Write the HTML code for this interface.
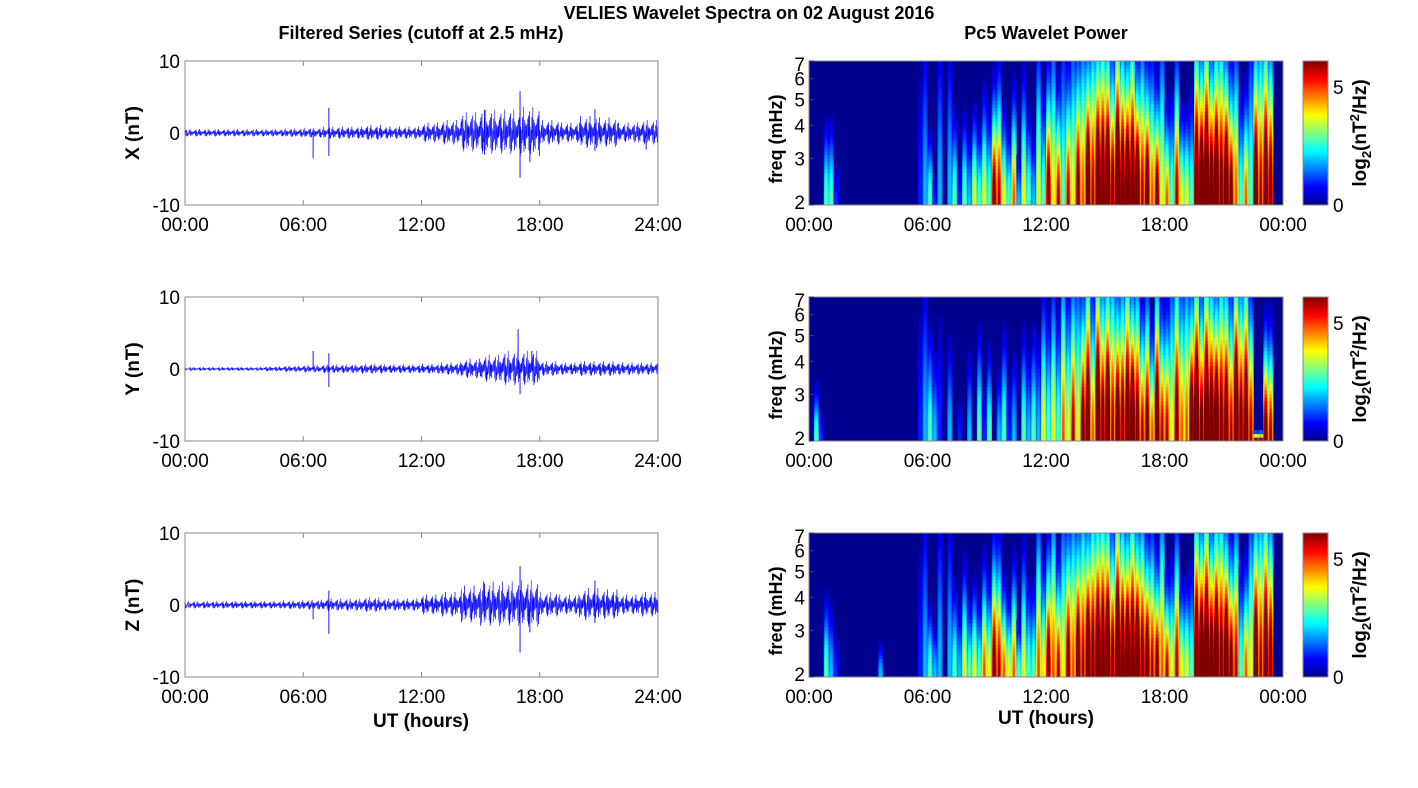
<!DOCTYPE html>
<html><head><meta charset="utf-8"><style>
body{margin:0;background:#fff}
svg{display:block;font-family:"Liberation Sans",sans-serif}
</style></head><body>
<svg id="fig" width="1418" height="788" xmlns="http://www.w3.org/2000/svg">
<defs><linearGradient id="jetg" x1="0" y1="1" x2="0" y2="0">
<stop offset="0" stop-color="#00008f"/><stop offset="0.125" stop-color="#0000ff"/><stop offset="0.375" stop-color="#00ffff"/><stop offset="0.625" stop-color="#ffff00"/><stop offset="0.875" stop-color="#ff0000"/><stop offset="1" stop-color="#800000"/></linearGradient></defs>
<text x="749" y="19" text-anchor="middle" font-size="18" font-weight="bold">VELIES Wavelet Spectra on 02 August 2016</text>
<text x="421" y="39" text-anchor="middle" font-size="18" font-weight="bold">Filtered Series (cutoff at 2.5 mHz)</text>
<text x="1046" y="39" text-anchor="middle" font-size="18" font-weight="bold">Pc5 Wavelet Power</text>
<text x="421" y="727" text-anchor="middle" font-size="19" font-weight="bold">UT (hours)</text>
<text x="1046" y="724" text-anchor="middle" font-size="19" font-weight="bold">UT (hours)</text>
<g id="root"></g>
</svg>
<script>
// ---- time series data (amplitude envelope per hour, nT) ----
const hours = [0,1,2,3,4,5,6,7,8,9,10,11,12,13,14,15,16,17,18,19,20,21,22,23];
const ampX = [0.3,0.3,0.3,0.3,0.3,0.35,0.4,0.5,0.5,0.6,0.5,0.5,0.8,1.0,1.6,1.8,1.8,2.0,1.0,0.8,1.3,1.2,0.8,1.0];
const ampY = [0.15,0.15,0.15,0.15,0.2,0.25,0.3,0.35,0.35,0.4,0.35,0.35,0.4,0.5,0.8,1.1,1.4,1.4,0.6,0.5,0.6,0.6,0.5,0.5];
const ampZ = [0.3,0.3,0.3,0.3,0.3,0.35,0.4,0.5,0.5,0.6,0.5,0.5,0.8,1.0,1.5,1.8,1.8,1.9,1.0,0.8,1.3,1.2,0.8,1.0];
const wiggle = [1,-0.4,0.7,-1.3,0.3,-0.8,1.5,-0.2,0.6,-1.1,0.9,-0.5,0.2,-1.6,1.2,-0.3,0.5,-0.9,1.8,-0.7,0.4,-1.2,0.8,-0.1,0.3,-0.6,1.1,-1.4,0.6];
const spikesX = [[6.5,-3.5],[7.3,3.5],[7.3,-3.2],[15.2,3.2],[15.2,-3.0],[17.0,5.8],[17.0,-6.2],[17.5,-4.0],[20.8,3.3],[20.8,-2.5],[23.4,-2.3]];
const spikesY = [[6.5,2.5],[7.3,2.2],[7.3,-2.5],[16.9,5.5],[17.0,-3.5],[17.6,2.5]];
const spikesZ = [[6.5,-2.0],[7.3,2.0],[7.3,-4.0],[15.2,3.0],[17.0,5.4],[17.0,-6.6],[17.5,-3.8],[20.8,3.4],[20.8,-2.5]];
const yTicks = [10,0,-10];
const xTickLabelsL = ["00:00","06:00","12:00","18:00","24:00"];
const xTickLabelsR = ["00:00","06:00","12:00","18:00","00:00"];
const freqTicks = [2,3,4,5,6,7];
const cbarTicks = [0,5];
// ---- wavelet power per 15-min bin (log2 nT^2/Hz) and vertical extent ----
const powX = [0,0,0,3, 3,1,0,0, 0,0,0,0, 0,0,0,0, 0,0,0,0, 0,0,1,2, 3,1,2,0, 2,3,1,3, 2,4,3,4, 3,7,6,4, 3,5,2,4, 3,2,4,3, 7,4,6,3, 6,4,7,5, 9,6,9,8, 9,7,9,8, 9,8,9,6, 8,5,7,4, 5,3,6,4, 4,3,8,9, 9,8,9,7, 9,7,5,3, 5,3,8,6, 8,7,0,0];
const extX = [0,0,0,.45, .45,.3,0,0, 0,0,0,0, 0,0,0,0, 0,0,0,0, 0,0,.9,1, .4,.2,1,0, 1,.5,.3,.5, .4,.5,.4,.6, .5,.6,.7,.5, .4,.6,.3,.7, .5,.4,.9,.6, .7,1,.6,1, .7,1,.8,1, .8,1,.9,1, .9,.8,1,.9, .8,1,.7,.9, .7,.8,.6,1, .5,.6,.8,.5, .5,.6,1,.8, 1,.8,.9,1, .8,.7,.9,.6, .6,1,.9,1, 1,.9,0,0];
const powY = [0,3,1,0, 0,0,0,0, 0,0,0,0, 0,0,0,0, 0,0,0,0, 0,0,1,2, 3,2,1,0, 2,0,1,0, 2,0,3,1, 3,0,2,3, 1,2,0,3, 2,3,2,4, 3,4,3,5, 4,6,4,7, 8,5,9,7, 9,6,8,7, 8,9,7,6, 7,5,8,6, 6,4,7,5, 5,8,9,7, 9,8,9,7, 8,6,9,7, 8,6,7,8, 7,6,0,0];
const extY = [0,.3,.2,0, 0,0,0,0, 0,0,0,0, 0,0,0,0, 0,0,0,0, 0,0,.9,1, .6,.5,.9,0, .6,0,.3,0, .5,0,.6,.4, .5,0,.4,.6, .4,.5,0,.6, .5,.6,.6,.8, .7,.9,.7,1, .8,.9,1,.8, 1,.8,1,.9, .9,1,.8,.9, 1,.8,.9,.7, .8,.6,.9,.7, .7,1,1,.9, 1,.8,1,.8, 1,.9,.8,1, .9,.8,1,.9, 1,.8,0,0];
const powZ = [0,0,0,3, 2,1,0,0, 0,0,0,0, 0,0,2,0, 0,0,0,0, 0,0,1,2, 3,2,2,0, 2,3,2,4, 3,4,3,5, 4,7,6,5, 4,5,3,4, 3,3,5,4, 7,5,6,4, 7,5,8,6, 9,7,9,8, 9,7,9,8, 9,8,9,7, 8,6,7,5, 6,4,6,4, 4,3,8,9, 9,8,9,7, 9,7,6,3, 5,4,8,6, 8,7,0,0];
const extZ = [0,0,0,.45, .4,.3,0,0, 0,0,0,0, 0,0,.2,0, 0,0,0,0, 0,0,.9,1, .4,.3,1,0, 1,.5,.4,.6, .4,.5,.4,.6, .5,.7,.7,.5, .4,.6,.3,.7, .5,.5,.9,.6, .7,1,.6,1, .8,1,.8,1, .8,1,.9,1, .9,.8,1,.9, .8,1,.8,.9, .7,.8,.6,1, .5,.6,.8,.5, .5,.6,1,.8, 1,.8,.9,1, .8,.7,.9,.6, .6,1,.9,1, 1,.9,0,0];
const cmax = 6.1;

const NS="http://www.w3.org/2000/svg";
const root=document.getElementById('root');
function mk(tag,attrs,parent,txt){const e=document.createElementNS(NS,tag);for(const k in attrs)e.setAttribute(k,attrs[k]);if(txt!==undefined)e.textContent=txt;(parent||root).appendChild(e);return e;}
function jet(v){v=Math.max(0,Math.min(1,v));const r=Math.max(0,Math.min(1,1.5-Math.abs(4*v-3))),g=Math.max(0,Math.min(1,1.5-Math.abs(4*v-2))),b=Math.max(0,Math.min(1,1.5-Math.abs(4*v-1)));return `rgb(${Math.round(r*255)},${Math.round(g*255)},${Math.round(b*255)})`;}

const panelTops=[61,297,533], ph=144;
const subW=[0.75,0.95,1,0.95,0.75];
const comps=[["X",ampX,spikesX,powX,extX],["Y",ampY,spikesY,powY,extY],["Z",ampZ,spikesZ,powZ,extZ]];
comps.forEach((c,i)=>{
  const top=panelTops[i], L=185, R=658, W=R-L;
  const xs=t=>L+t/24*W, ys=v=>top+ph/2-v/20*ph;
  const g=mk('g',{});
  
  
  const bg=mk('rect',{x:L,y:top,width:W,height:ph,fill:'#fff',stroke:'#888','stroke-width':1},g);
  
  let pts=[];const per=60;
  for(let k=0;k<24*per;k++){const t=k/per;const a=c[1][Math.floor(t)];pts.push(xs(t).toFixed(2)+','+ys(a*wiggle[(k*7+i*3)%wiggle.length]).toFixed(2));}
  const ln=mk('polyline',{points:pts.join(' '),fill:'none',stroke:'#0000ff','stroke-width':0.5},g);
  
  c[2].forEach(s=>{const sp=mk('line',{x1:xs(s[0]),x2:xs(s[0]),y1:ys(0),y2:ys(s[1]),stroke:'#0000ff','stroke-width':0.9},g);
    });
  yTicks.forEach(v=>{mk('line',{x1:L,x2:L+5,y1:ys(v),y2:ys(v),stroke:'#888'},g);
    const tl=mk('text',{x:L-5,y:ys(v)+7,'text-anchor':'end','font-size':19},g,String(v));
    });
  xTickLabelsL.forEach((s,j)=>{const x=L+j*W/4;mk('line',{x1:x,x2:x,y1:top+ph,y2:top+ph-5,stroke:'#888'},g);mk('line',{x1:x,x2:x,y1:top,y2:top+5,stroke:'#888'},g);
    const tl=mk('text',{x:x,y:top+ph+26,'text-anchor':'middle','font-size':19},g,s);
    });
  const yl=mk('text',{x:0,y:0,transform:`translate(139,${top+ph/2}) rotate(-90)`,'text-anchor':'middle','font-size':19,'font-weight':'bold'},g,c[0]+' (nT)');
  

  // spectrogram
  const SL=809,SR=1283,SW=SR-SL;
  const sg=mk('g',{});
  
  
  mk('rect',{x:SL,y:top,width:SW,height:ph,fill:'#00008f'},sg);
  const tx=t=>SL+t/24*SW, nr=40, rh=ph/nr, bw=SW/96, sw=bw/subW.length;
  c[3].forEach((p,j)=>{let h=c[4][j];if(!(h>=0))h=0.6;if(!(p>0))return;
    subW.forEach((wgt,s)=>{
    for(let r=0;r<nr;r++){const yf=(r+0.5)/nr;const v=p*wgt*Math.exp(-Math.pow(yf/Math.max(h,0.05),2)*1.1);
      if(!(v>=0.35))continue;
      const cell=mk('rect',{x:(tx(j*0.25)+s*sw).toFixed(2),y:(top+ph-(r+1)*rh).toFixed(2),width:(sw+0.3).toFixed(2),height:(rh+0.3).toFixed(2),fill:jet(v/cmax)},sg);
      }});});
  mk('rect',{x:SL,y:top,width:SW,height:ph,fill:'none',stroke:'#888'},sg);
  const fy=f=>top+ph-Math.log(f/2)/Math.log(7/2)*ph;
  freqTicks.forEach(f=>{mk('line',{x1:SL,x2:SL+5,y1:fy(f),y2:fy(f),stroke:'#444'},sg);
    const tl=mk('text',{x:SL-4,y:fy(f)+(f==7?10:f==2?4:7),'text-anchor':'end','font-size':19},sg,String(f));
    });
  xTickLabelsR.forEach((s,j)=>{const x=SL+j*SW/4;
    const tl=mk('text',{x:x,y:top+ph+26,'text-anchor':'middle','font-size':19},sg,s);
    });
  const fl=mk('text',{x:0,y:0,transform:`translate(782,${top+ph/2+6}) rotate(-90)`,'text-anchor':'middle','font-size':18,'font-weight':'bold'},sg,'freq (mHz)');
  
  const cb=mk('rect',{x:1303,y:top,width:25,height:ph,fill:'url(#jetg)',stroke:'#888'},sg);
  
  cbarTicks.forEach(v=>{const y=top+ph-v/cmax*ph;
    const tl=mk('text',{x:1333,y:y+7,'font-size':19},sg,String(v));
    });
  const ct=mk('text',{x:0,y:0,transform:`translate(1366,${top+ph/2}) rotate(-90)`,'text-anchor':'middle','font-size':19,'font-weight':'bold'},sg);
  
  ct.innerHTML='log<tspan font-size="13" dy="5">2</tspan><tspan dy="-5">(nT</tspan><tspan font-size="13" dy="-7">2</tspan><tspan dy="7">/Hz)</tspan>';
});
</script>
</body></html>
